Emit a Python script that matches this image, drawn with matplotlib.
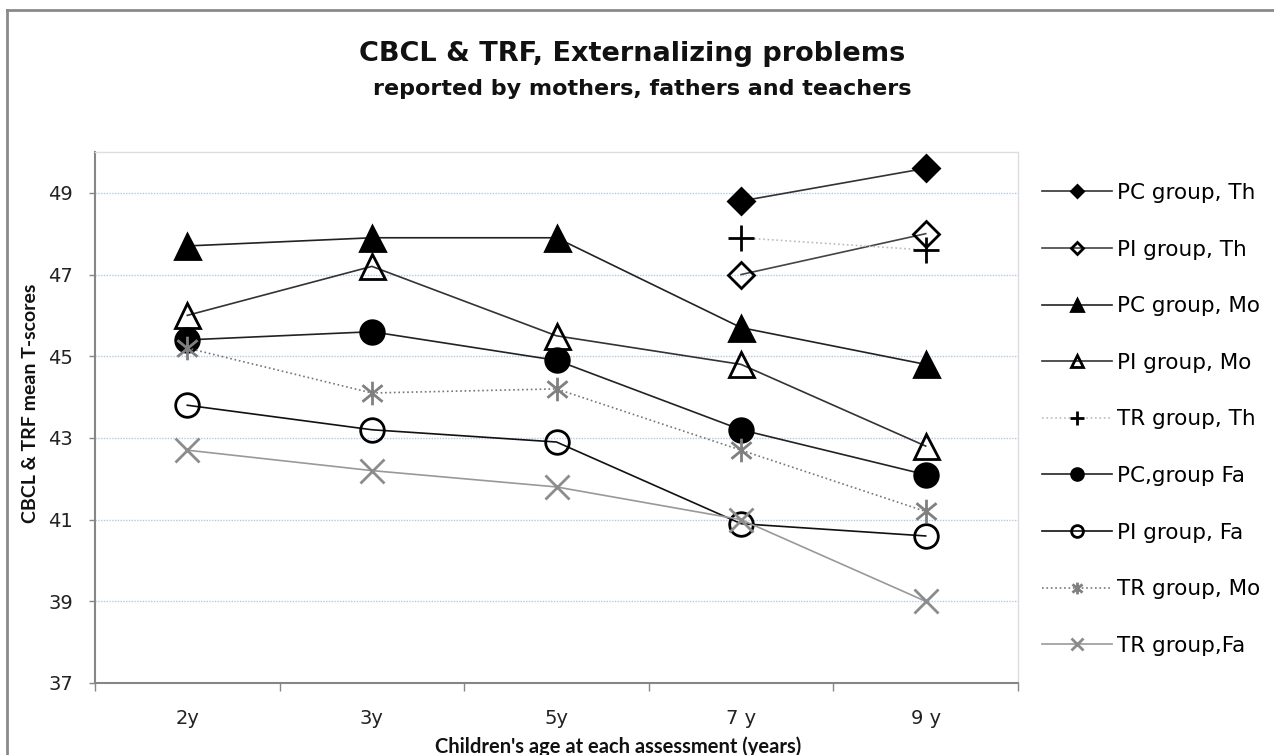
import numpy as np
import matplotlib
matplotlib.use("Agg")
import matplotlib.pyplot as plt
from matplotlib.path import Path
from matplotlib.lines import Line2D

plt.rcParams['font.family'] = ['DejaVu Sans']

ages = ["2y", "3y", "5y", "7 y", "9 y"]
nan = np.nan

# series values
pc_th = [nan, nan, nan, 48.8, 49.6]
pi_th = [nan, nan, nan, 47.0, 48.0]
pc_mo = [47.7, 47.9, 47.9, 45.7, 44.8]
pi_mo = [46.0, 47.2, 45.5, 44.8, 42.8]
tr_th = [nan, nan, nan, 47.9, 47.6]
pc_fa = [45.4, 45.6, 44.9, 43.2, 42.1]
pi_fa = [43.8, 43.2, 42.9, 40.9, 40.6]
tr_mo = [45.2, 44.1, 44.2, 42.7, 41.2]
tr_fa = [42.7, 42.2, 41.8, 41.0, 39.0]

labels = ["PC group, Th", "PI group, Th", "PC group, Mo", "PI group, Mo",
          "TR group, Th", "PC,group Fa", "PI group, Fa", "TR group, Mo",
          "TR group,Fa"]

# excel style star marker: vertical bar plus an x
star = Path([(0, -1), (0, 1), (-0.85, -0.7), (0.85, 0.7), (-0.85, 0.7), (0.85, -0.7)],
            [Path.MOVETO, Path.LINETO] * 3)

styles = [
    dict(marker="D", ms=13, mfc="black", mec="black", color="#333333", ls="-"),
    dict(marker="D", ms=13, mfc="none", mec="black", color="#444444", ls="-"),
    dict(marker="^", ms=18, mfc="black", mec="black", color="#222222", ls="-"),
    dict(marker="^", ms=18, mfc="none", mec="black", color="#333333", ls="-"),
    dict(marker="+", ms=19, mfc="black", mec="black", color="#bbbbbb", ls=":"),
    dict(marker="o", ms=17, mfc="black", mec="black", color="#222222", ls="-"),
    dict(marker="o", ms=17, mfc="none", mec="black", color="#111111", ls="-"),
    dict(marker=star, ms=17, mfc="none", mec="#808080", color="#777777", ls=":"),
    dict(marker="x", ms=17, mfc="none", mec="#8c8c8c", color="#999999", ls="-"),
]

series = [pc_th, pi_th, pc_mo, pi_mo, tr_th, pc_fa, pi_fa, tr_mo, tr_fa]

fig = plt.figure(figsize=(12.74, 7.55), dpi=100)
ax = fig.add_axes([95 / 1274, 1 - 683 / 755, (1018 - 95) / 1274, (683 - 152) / 755])

x = np.arange(len(ages))
for i, (vals, st, lab) in enumerate(zip(series, styles, labels)):
    ax.plot(x, vals, label=lab, lw=1.2, mew=2, zorder=3 + i, **st)

ax.set_xlim(-0.5, 4.5)
ax.set_ylim(37, 50)
ax.set_yticks(np.arange(37, 50, 2))
ax.set_xticks(x)
ax.set_xticklabels(ages)
ax.set_xticks(np.arange(-0.5, 5, 1), minor=True)
ax.tick_params(axis="x", which="major", length=0, pad=19, labelsize=14, labelcolor="#222222")
ax.tick_params(axis="x", which="minor", length=6, width=1, color="#868686", direction="out")
ax.tick_params(axis="y", length=4, width=1, color="#868686", direction="out", pad=12,
               labelsize=14, labelcolor="#222222")

for v in np.arange(39, 50, 2):
    ax.axhline(v, color="#b4c8e6", lw=1, ls=(0, (1, 1)), zorder=1)

for s in ["left", "bottom"]:
    ax.spines[s].set_color("#868686")
    ax.spines[s].set_linewidth(1.5)
for s in ["top", "right"]:
    ax.spines[s].set_color("#dddddd")
    ax.spines[s].set_linewidth(1)

ax.legend(loc="upper left", bbox_to_anchor=(1042 / 1274, 1 - 183 / 755),
          bbox_transform=fig.transFigure, frameon=False, fontsize=15.5,
          markerscale=0.5, handlelength=3.25, handletextpad=0.25,
          labelspacing=1.7, borderaxespad=0, borderpad=0)

fig.text(632 / 1274, 1 - 61 / 755, "CBCL & TRF, Externalizing problems",
         ha="center", va="baseline", fontsize=19.5, fontweight="bold", color="#111111")
fig.text(642 / 1274, 1 - 95 / 755, "reported by mothers, fathers and teachers",
         ha="center", va="baseline", fontsize=16, fontweight="bold", color="#111111")
fig.text(31 / 1274, 1 - 403 / 755, "CBCL & TRF mean T-scores", rotation=90,
         ha="center", va="center", fontsize=14, fontweight="bold", color="#111111",
         family="Lato")
fig.text(618 / 1274, 1 - 747 / 755, "Children's age at each assessment (years)",
         ha="center", va="center", fontsize=14.5, fontweight="bold", color="#111111",
         family="Lato")

# chart area border (only left and top edges are in frame)
fig.add_artist(Line2D([7 / 1274, 7 / 1274], [0, 1 - 10 / 755], transform=fig.transFigure,
                      color="#8a8a8a", lw=2))
fig.add_artist(Line2D([7 / 1274, 1], [1 - 10 / 755, 1 - 10 / 755], transform=fig.transFigure,
                      color="#8a8a8a", lw=2))

fig.savefig("out.png", dpi=100, facecolor="white")
